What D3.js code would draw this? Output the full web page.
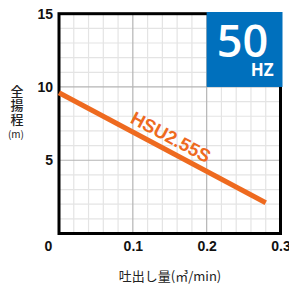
<!DOCTYPE html>
<html>
<head>
<meta charset="utf-8">
<script src="https://cdn.jsdelivr.net/npm/d3@7"></script>
<style>
  body { margin: 0; background: #fff; }
  svg text { font-family: "Liberation Sans", Arial, sans-serif; }
</style>
</head>
<body>
<div id="chart"></div>
<script>
// pump curve
const flow = [0, 0.28];
const head = [9.6, 2.1];
const modelName = "HSU2.55S";
const xTicks = [0, 0.1, 0.2, 0.3];
const yTicks = [5, 10, 15];
const freqText = ["50", "HZ"];

const W = 289, H = 284;
const margin = { top: 13.7, right: 8.5, bottom: 50.5, left: 59 };
const w = W - margin.left - margin.right;
const h = H - margin.top - margin.bottom;

const svg = d3.select("#chart").append("svg")
  .attr("width", W).attr("height", H);
const g = svg.append("g")
  .attr("transform", `translate(${margin.left},${margin.top})`);

const x = d3.scaleLinear().domain([0, 0.3]).range([0, w]);
const y = d3.scaleLinear().domain([0, 15]).range([h, 0]);

// minor grid
const minorX = d3.range(0.02, 0.3, 0.02).filter(v => Math.abs(v * 10 - Math.round(v * 10)) > 1e-6);
const minorY = d3.range(1, 15, 1).filter(v => v % 5 !== 0);
g.selectAll(".mx").data(minorX).enter().append("line")
  .attr("x1", d => x(d)).attr("x2", d => x(d)).attr("y1", 0).attr("y2", h)
  .attr("stroke", "#e4e4e4").attr("stroke-width", 1.2);
g.selectAll(".my").data(minorY).enter().append("line")
  .attr("y1", d => y(d)).attr("y2", d => y(d)).attr("x1", 0).attr("x2", w)
  .attr("stroke", "#e4e4e4").attr("stroke-width", 1.2);
// major grid
g.selectAll(".Mx").data([0.1, 0.2]).enter().append("line")
  .attr("x1", d => x(d)).attr("x2", d => x(d)).attr("y1", 0).attr("y2", h)
  .attr("stroke", "#b4b4b4").attr("stroke-width", 1.2);
g.selectAll(".My").data([5, 10]).enter().append("line")
  .attr("y1", d => y(d)).attr("y2", d => y(d)).attr("x1", 0).attr("x2", w)
  .attr("stroke", "#b4b4b4").attr("stroke-width", 1.2);

// frame
g.append("rect").attr("x", 0).attr("y", 0).attr("width", w).attr("height", h)
  .attr("fill", "none").attr("stroke", "#000").attr("stroke-width", 3);

// frequency box
g.append("rect")
  .attr("x", x(0.2)).attr("y", y(15) - 1.7)
  .attr("width", x(0.3) - x(0.2) + 2).attr("height", y(10) - y(15) + 1.7)
  .attr("fill", "#0070bd");
g.append("text")
  .attr("x", x(0.25) - 1).attr("y", y(15) + 43)
  .attr("text-anchor", "middle")
  .attr("fill", "#fff")
  .style("font-family", "'Open Sans', sans-serif")
  .style("font-size", "45px").style("font-weight", 600)
  .text(freqText[0]);
g.append("text")
  .attr("x", x(0.3) - 7).attr("y", y(10) - 11)
  .attr("text-anchor", "end")
  .attr("fill", "#fff")
  .style("font-family", "'Open Sans', sans-serif")
  .style("font-size", "17px").style("font-weight", 700)
  .text(freqText[1]);

// pump curve
const pts = flow.map((f, i) => [f, head[i]]);
g.append("path").datum(pts)
  .attr("d", d3.line().x(d => x(d[0])).y(d => y(d[1])))
  .attr("fill", "none").attr("stroke", "#ee6a1f").attr("stroke-width", 5);

// model label along the curve
const lx = 0.143;
const ly = head[0] + (head[1] - head[0]) * (lx - flow[0]) / (flow[1] - flow[0]);
const ang = Math.atan2(y(head[1]) - y(head[0]), x(flow[1]) - x(flow[0])) * 180 / Math.PI;
g.append("text")
  .attr("transform", `translate(${x(lx)},${y(ly)}) rotate(${ang})`)
  .attr("y", -7)
  .attr("text-anchor", "middle")
  .attr("fill", "#ee6a1f")
  .style("font-size", "18.5px").style("font-weight", 700)
  .text(modelName);

// axes labels (ticks)
const xAxis = g.append("g").attr("transform", `translate(0,${h})`)
  .call(d3.axisBottom(x).tickValues(xTicks).tickSize(0).tickPadding(8)
    .tickFormat(d => d === 0 ? "0" : d3.format(".1f")(d)));
xAxis.select(".domain").remove();
xAxis.selectAll("text")
  .style("font-size", "14px").style("font-weight", 700).attr("fill", "#111")
  .attr("dx", d => d === 0 ? -11 : 0);

const yAxis = g.append("g")
  .call(d3.axisLeft(y).tickValues(yTicks).tickSize(0).tickPadding(6));
yAxis.select(".domain").remove();
yAxis.selectAll("text")
  .style("font-size", "14px").style("font-weight", 700).attr("fill", "#111");

// axis titles
const cjk = "'Noto Sans CJK JP', sans-serif";
const yTitle = svg.append("text")
  .attr("text-anchor", "middle").attr("fill", "#222")
  .style("font-family", cjk).style("font-size", "13px").style("font-weight", 500);
["全", "揚", "程"].forEach((c, i) => {
  yTitle.append("tspan").attr("x", 17).attr("y", 96 + i * 14).text(c);
});
svg.append("text")
  .attr("x", 16).attr("y", 138).attr("text-anchor", "middle").attr("fill", "#222")
  .style("font-family", cjk).style("font-size", "10px")
  .text("(m)");

svg.append("text")
  .attr("x", 170).attr("y", 281).attr("text-anchor", "middle").attr("fill", "#222")
  .style("font-family", cjk).style("font-size", "13px")
  .text("吐出し量(㎥/min)");
</script>
</body>
</html>
